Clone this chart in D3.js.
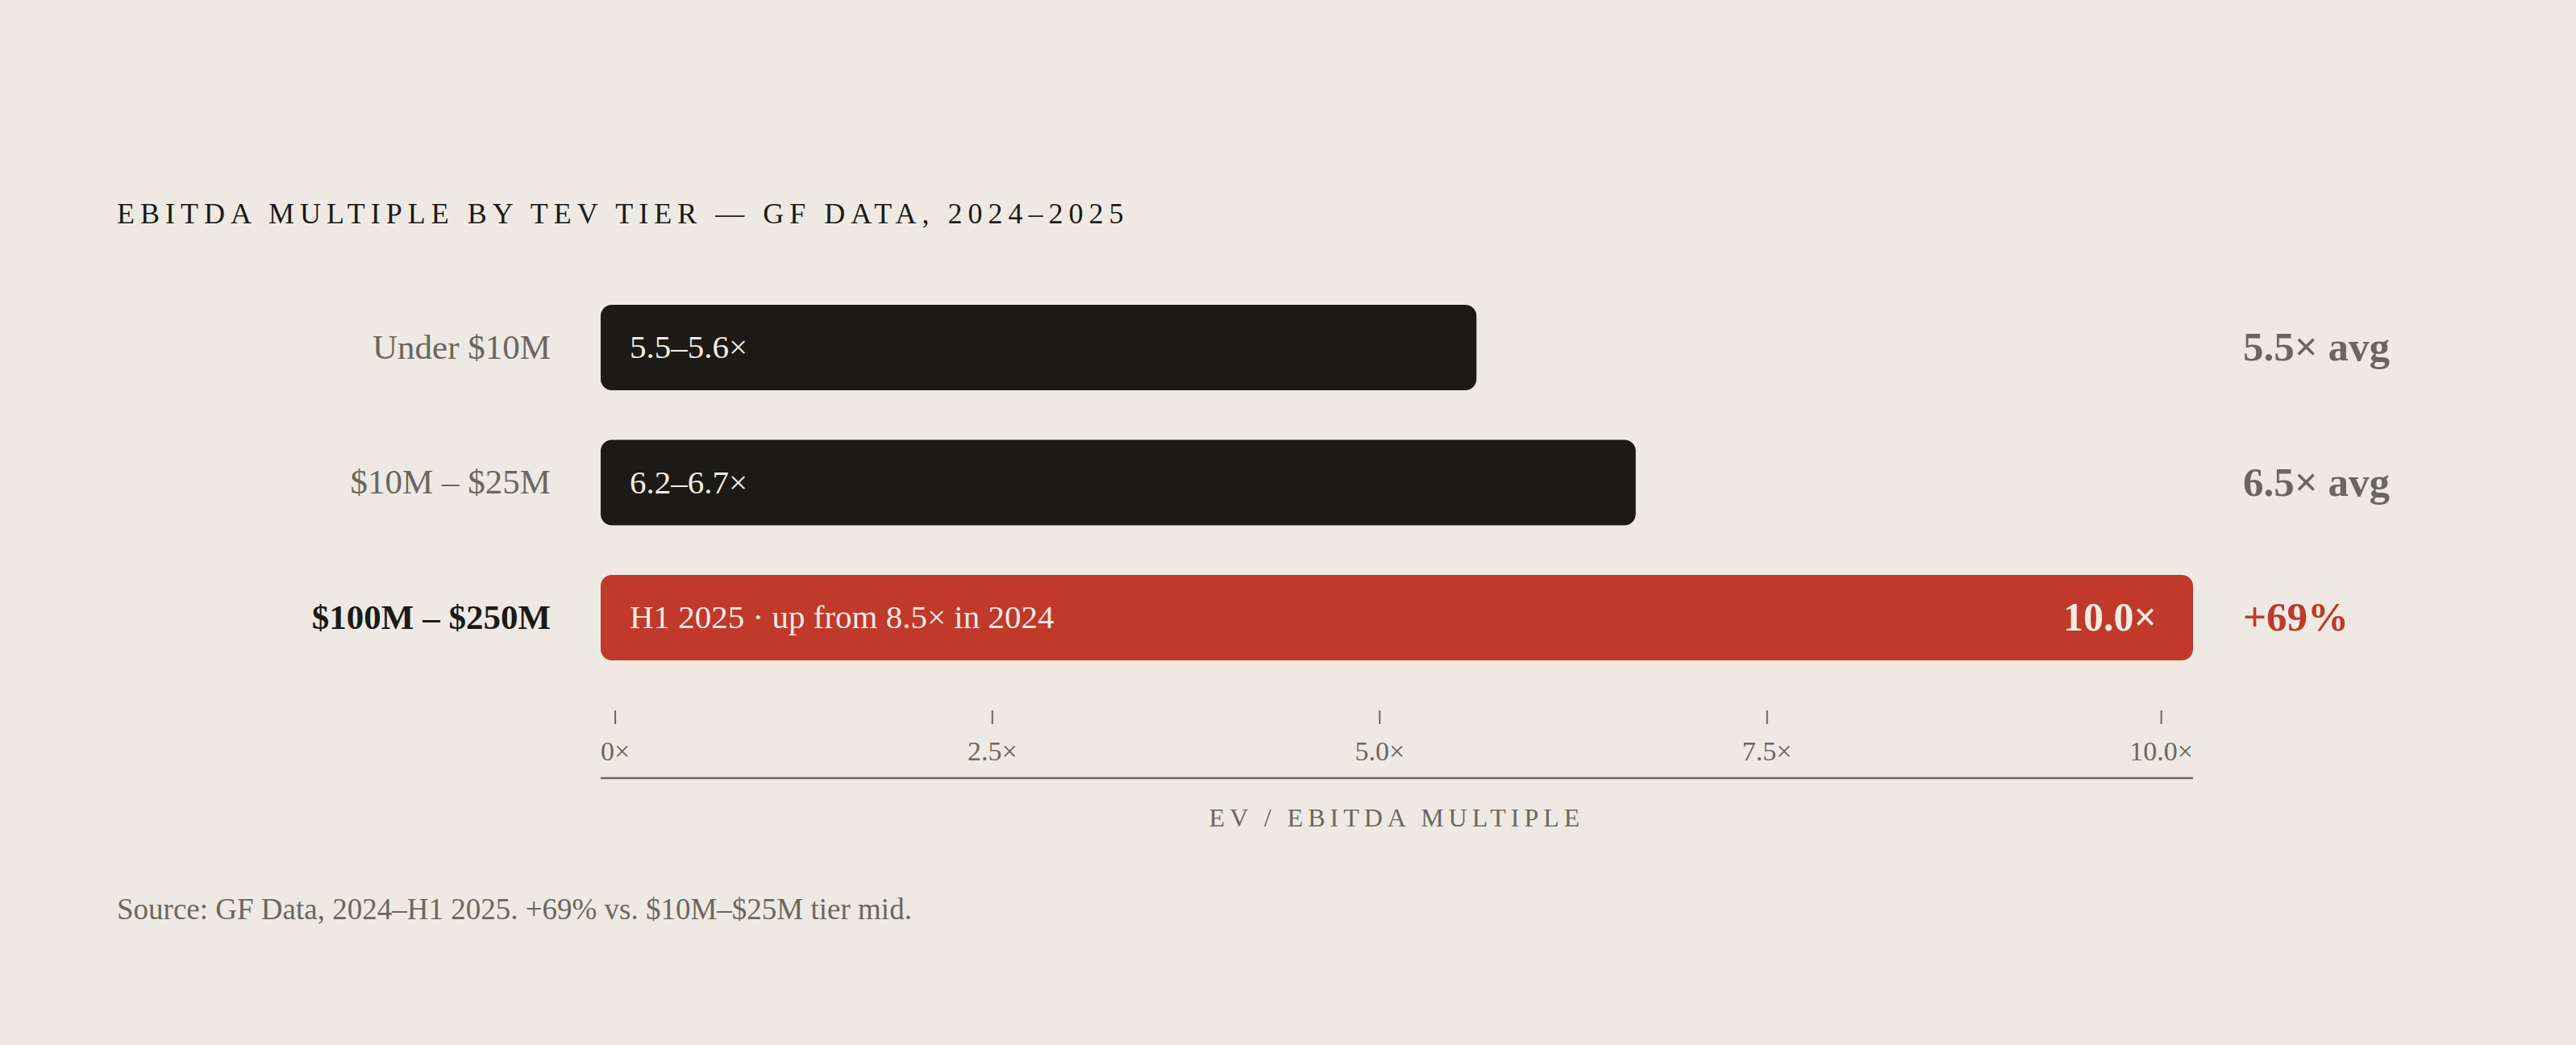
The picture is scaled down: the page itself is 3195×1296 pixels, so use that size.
<!DOCTYPE html>
<html>
<head>
<meta charset="utf-8">
<script src="https://cdn.jsdelivr.net/npm/d3@7"></script>
<style>
  html, body { margin: 0; padding: 0; background: #eeeae3; }
  svg { display: block; }
</style>
</head>
<body>
<div id="chart"></div>
<script>
(function () {
  "use strict";

  // Data
  const tiers = ["Under $10M", "$10M – $25M", "$100M – $250M"];
  const avgMultiple = [5.5, 6.5, 10.0];
  const rangeLabels = ["5.5–5.6×", "6.2–6.7×", "H1 2025 · up from 8.5× in 2024"];
  const endLabels = ["", "", "10.0×"];
  const sideNotes = ["5.5× avg", "6.5× avg", "+69%"];
  const highlighted = [false, false, true];
  const tickValues = [0, 2.5, 5, 7.5, 10];
  const tickLabels = ["0×", "2.5×", "5.0×", "7.5×", "10.0×"];

  const W = 3195, H = 1296;
  const FONT = "'Liberation Serif', 'Times New Roman', serif";
  const INK = "#1c1a16";
  const GREY = "#6b6760";
  const RED = "#c0392b";
  const CREAM = "#f3ece1";

  const svg = d3.select("#chart").append("svg")
    .attr("width", W).attr("height", H)
    .attr("viewBox", `0 0 ${W} ${H}`)
    .style("font-family", FONT);

  svg.append("rect").attr("width", W).attr("height", H).attr("fill", "#eeeae3");

  // Title
  svg.append("text")
    .attr("x", 145).attr("y", 277)
    .attr("fill", INK)
    .attr("font-size", 36)
    .attr("letter-spacing", "7px")
    .text("EBITDA MULTIPLE BY TEV TIER — GF DATA, 2024–2025");

  const x = d3.scaleLinear().domain([0, 10]).range([745, 2720]);
  const y = d3.scaleBand().domain(tiers).range([378, 819]).paddingInner(0.367).paddingOuter(0);

  const rows = svg.selectAll("g.row")
    .data(tiers.map((t, i) => ({ tier: t, v: avgMultiple[i], range: rangeLabels[i],
      end: endLabels[i], note: sideNotes[i], hi: highlighted[i] })))
    .enter().append("g").attr("class", "row");

  rows.append("rect")
    .attr("x", x(0))
    .attr("y", (d) => y(d.tier))
    .attr("width", (d) => x(d.v) - x(0))
    .attr("height", y.bandwidth())
    .attr("rx", 14)
    .attr("fill", (d) => (d.hi ? RED : INK));

  const mid = (d) => y(d.tier) + y.bandwidth() / 2;

  // tier labels, left of the bars
  rows.append("text")
    .attr("x", x(0) - 62)
    .attr("y", mid)
    .attr("dy", "0.32em")
    .attr("text-anchor", "end")
    .attr("font-size", 43)
    .attr("font-weight", (d) => (d.hi ? 700 : 400))
    .attr("fill", (d) => (d.hi ? INK : GREY))
    .text((d) => d.tier);

  // range text inside bar
  rows.append("text")
    .attr("x", x(0) + 36)
    .attr("y", mid)
    .attr("dy", "0.32em")
    .attr("font-size", 41)
    .attr("fill", CREAM)
    .text((d) => d.range);

  // value at bar end
  rows.filter((d) => d.end).append("text")
    .attr("x", (d) => x(d.v) - 45)
    .attr("y", mid)
    .attr("dy", "0.32em")
    .attr("text-anchor", "end")
    .attr("font-size", 50)
    .attr("font-weight", 700)
    .attr("fill", CREAM)
    .text((d) => d.end);

  // side notes
  rows.append("text")
    .attr("x", x(10) + 62)
    .attr("y", mid)
    .attr("dy", "0.32em")
    .attr("font-size", 51)
    .attr("font-weight", 700)
    .attr("fill", (d) => (d.hi ? RED : GREY))
    .text((d) => d.note);

  // Axis: labels laid out space-between across the bar span, tick over each label
  const axisG = svg.append("g").attr("class", "axis");
  const labels = axisG.selectAll("text.tick")
    .data(tickValues)
    .enter().append("text")
    .attr("class", "tick")
    .attr("y", 943)
    .attr("font-size", 34)
    .attr("fill", GREY)
    .text((d, i) => tickLabels[i]);

  const widths = [];
  labels.each(function () { widths.push(this.getComputedTextLength()); });
  const span = x.range()[1] - x.range()[0];
  const gap = (span - d3.sum(widths)) / (widths.length - 1);
  const lefts = [];
  let cur = x.range()[0];
  widths.forEach((w) => { lefts.push(cur); cur += w + gap; });
  labels.attr("x", (d, i) => lefts[i]);

  axisG.selectAll("line.tick")
    .data(tickValues)
    .enter().append("line")
    .attr("class", "tick")
    .attr("x1", (d, i) => lefts[i] + widths[i] / 2)
    .attr("x2", (d, i) => lefts[i] + widths[i] / 2)
    .attr("y1", 881).attr("y2", 898)
    .attr("stroke", GREY).attr("stroke-width", 2);

  axisG.append("line")
    .attr("x1", x.range()[0]).attr("x2", x.range()[1])
    .attr("y1", 965).attr("y2", 965)
    .attr("stroke", GREY).attr("stroke-width", 2.5);

  svg.append("text")
    .attr("x", (x.range()[0] + x.range()[1]) / 2)
    .attr("y", 1025)
    .attr("text-anchor", "middle")
    .attr("font-size", 32)
    .attr("letter-spacing", "6px")
    .attr("fill", GREY)
    .text("EV / EBITDA MULTIPLE");

  // Source
  svg.append("text")
    .attr("x", 145).attr("y", 1140)
    .attr("font-size", 37)
    .attr("fill", GREY)
    .text("Source: GF Data, 2024–H1 2025. +69% vs. $10M–$25M tier mid.");
})();
</script>
</body>
</html>
